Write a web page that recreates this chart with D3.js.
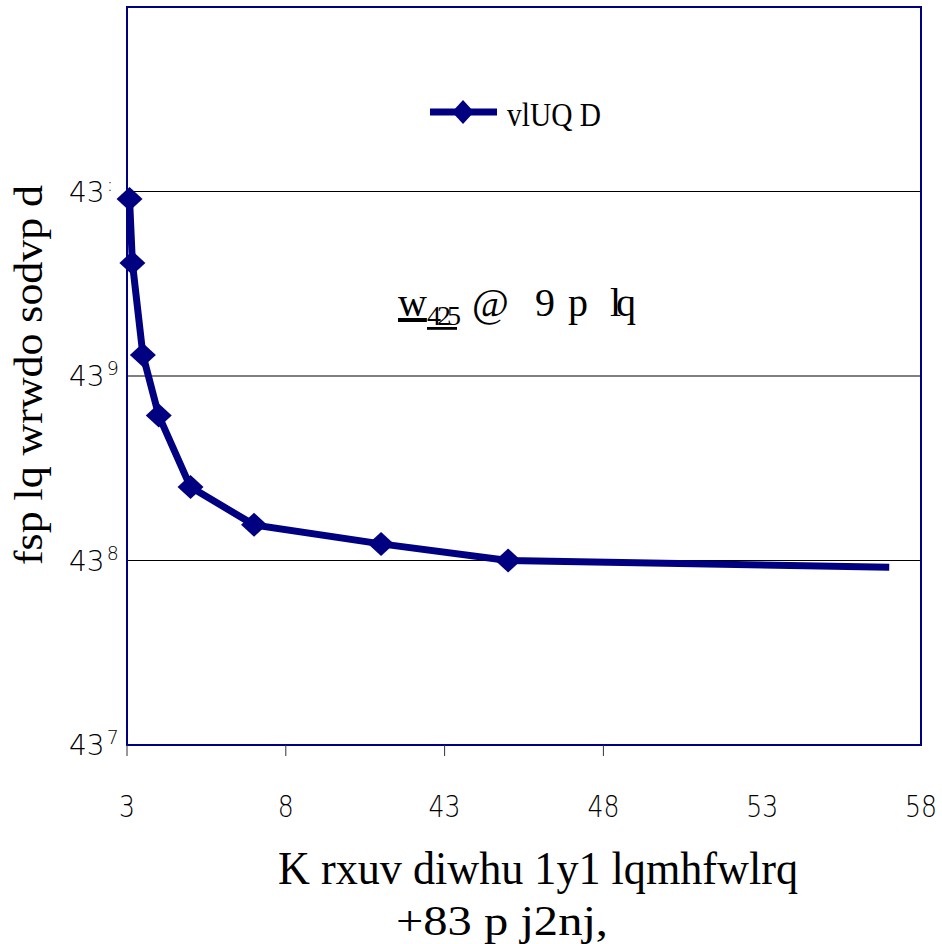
<!DOCTYPE html>
<html>
<head>
<meta charset="utf-8">
<script src="https://cdn.jsdelivr.net/npm/d3@7"></script>
<style>
  body { margin: 0; background: #fff; }
  text { font-family: "Liberation Serif", serif; fill: #000; }
  .tick-label { font-family: "DejaVu Sans", sans-serif; font-weight: 300; }
</style>
</head>
<body>
<svg id="chart" width="942" height="944"></svg>
<script>
// data (text kept as shown)
const hours = [0.08, 0.17, 0.5, 1, 2, 4, 8, 12, 24];
const cpm = [9.1e6, 4.1e6, 1.3e6, 6.1e5, 2.5e5, 1.56e5, 1.23e5, 1.0e5, 9.2e4];
const marked = [true, true, true, true, true, true, true, true, false];
const xTicks = [0, 5, 10, 15, 20, 25];
const xTickText = ["3", "8", "43", "48", "53", "58"];
const xTickMarks = [0, 5, 10, 15];
const yTicks = [1e4, 1e5, 1e6, 1e7];
const yTickText = [["43", "7"], ["43", "8"], ["43", "9"], ["43", ":"]];
const seriesName = "vlUQ D";
const yTitle = "fsp lq wrwdo sodvp d";
const xTitle1 = "K rxuv diwhu 1y1 lqmhfwlrq";
const xTitle2 = "+83 p j2nj,";

const navy = "#000080";
const svg = d3.select("#chart");
const plotL = 127, plotR = 921, plotT = 7, plotB = 745;

const x = d3.scaleLinear().domain([0, 25]).range([plotL, plotR]);
const y = d3.scaleLog().domain([1e4, 1e8]).range([plotB, plotT]);

// gridlines
svg.append("g")
  .selectAll("line")
  .data(yTicks.slice(1))
  .join("line")
  .attr("x1", plotL).attr("x2", plotR)
  .attr("y1", d => y(d)).attr("y2", d => y(d))
  .attr("stroke", "#000").attr("stroke-width", 1);

// plot frame
svg.append("rect")
  .attr("x", plotL).attr("y", plotT)
  .attr("width", plotR - plotL).attr("height", plotB - plotT)
  .attr("fill", "none").attr("stroke", navy).attr("stroke-width", 2);

// x ticks
svg.append("g")
  .selectAll("line")
  .data(xTickMarks)
  .join("line")
  .attr("x1", d => x(d)).attr("x2", d => x(d))
  .attr("y1", plotB).attr("y2", plotB + 11)
  .attr("stroke", "#333").attr("stroke-width", 1);

svg.append("g")
  .selectAll("text")
  .data(xTicks)
  .join("text")
  .attr("class", "tick-label")
  .attr("x", d => x(d))
  .attr("y", 817)
  .attr("text-anchor", "middle")
  .attr("font-size", 30)
  .attr("textLength", (d, i) => xTickText[i].length * 16)
  .attr("lengthAdjust", "spacingAndGlyphs")
  .text((d, i) => xTickText[i]);

// y tick labels: base plus raised exponent
const yl = svg.append("g")
  .selectAll("text")
  .data(yTicks)
  .join("text")
  .attr("class", "tick-label")
  .attr("x", 69)
  .attr("y", d => y(d) + 10)
  .attr("font-size", 28);
yl.append("tspan").text((d, i) => yTickText[i][0]);
yl.append("tspan")
  .attr("font-size", 19)
  .attr("dx", 2)
  .attr("dy", -11)
  .text((d, i) => yTickText[i][1]);

// series line
const line = d3.line().x(d => x(d[0])).y(d => y(d[1]));
const pts = hours.map((h, i) => [h, cpm[i]]);
svg.append("path")
  .datum(pts)
  .attr("d", line)
  .attr("fill", "none")
  .attr("stroke", navy)
  .attr("stroke-width", 7)
  .attr("stroke-linejoin", "round");

const diamond = "M0,-12L13,0L0,12L-13,0Z";
svg.append("g")
  .selectAll("path")
  .data(pts.filter((d, i) => marked[i]))
  .join("path")
  .attr("d", diamond)
  .attr("transform", d => `translate(${x(d[0])},${y(d[1])})`)
  .attr("fill", navy);

// legend
const lg = svg.append("g").attr("transform", "translate(430,112)");
lg.append("line").attr("x1", 0).attr("x2", 67)
  .attr("stroke", navy).attr("stroke-width", 7);
lg.append("path").attr("d", "M0,-12L11,0L0,12L-11,0Z")
  .attr("transform", "translate(33,0)").attr("fill", navy);
lg.append("text").attr("x", 77).attr("y", 14)
  .attr("font-size", 33)
  .attr("textLength", 94).attr("lengthAdjust", "spacingAndGlyphs")
  .text(seriesName);

// half-life annotation
const ann = svg.append("text").attr("y", 316).attr("font-size", 40);
ann.append("tspan").attr("x", 398).attr("text-decoration", "underline").text("w");
ann.append("tspan").attr("x", 427).attr("font-size", 28).attr("dy", 9)
  .attr("letter-spacing", -4).attr("text-decoration", "underline").text("425");
ann.append("tspan").attr("x", 472).attr("dy", -9).text("@");
ann.append("tspan").attr("x", 535).text("9");
ann.append("tspan").attr("x", 568).text("p");
ann.append("tspan").attr("x", 610).attr("letter-spacing", -5).text("lq");

// axis titles
svg.append("text")
  .attr("transform", "translate(42,375) rotate(-90)")
  .attr("text-anchor", "middle")
  .attr("font-size", 40)
  .attr("textLength", 380).attr("lengthAdjust", "spacingAndGlyphs")
  .text(yTitle);

svg.append("text")
  .attr("x", 278).attr("y", 884)
  .attr("font-size", 46)
  .attr("textLength", 520).attr("lengthAdjust", "spacingAndGlyphs")
  .text(xTitle1);

svg.append("text")
  .attr("x", 396).attr("y", 935)
  .attr("font-size", 42)
  .attr("textLength", 212).attr("lengthAdjust", "spacingAndGlyphs")
  .text(xTitle2);
</script>
</body>
</html>
